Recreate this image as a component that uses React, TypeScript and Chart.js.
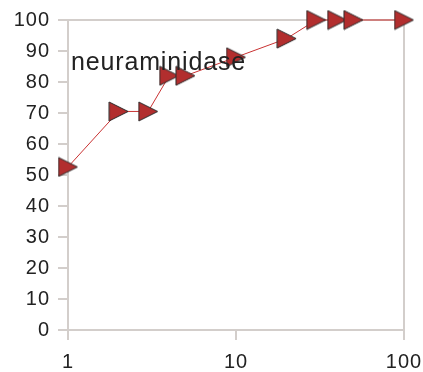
import React, { useEffect, useRef } from "react";
import { Chart, registerables } from "chart.js";

Chart.register(...registerables);

const xValues = [1, 2, 3, 4, 5, 10, 20, 30, 40, 50, 100];
const yValues = [52.6, 70.5, 70.5, 82, 82, 88, 94, 100, 100, 100, 100];
const xTicks = [1, 10, 100];
const yMin = 0;
const yMax = 100;
const yStep = 10;
const labelText = "neuraminidase";

const AXIS = "#d3cecb";
const TEXT = "#222222";
const FAMILY = "'Liberation Sans', Arial, sans-serif";

function makeMarker(): HTMLCanvasElement {
  const c = document.createElement("canvas");
  c.width = 21;
  c.height = 21;
  const g = c.getContext("2d")!;
  g.beginPath();
  g.moveTo(1, 1);
  g.lineTo(20, 10.5);
  g.lineTo(1, 20);
  g.closePath();
  g.fillStyle = "#b22e2e";
  g.fill();
  g.lineWidth = 1;
  g.strokeStyle = "#2b2b2b";
  g.stroke();
  return c;
}

const spacingPlugin = {
  id: "spacing",
  beforeDraw(chart: any) {
    (chart.ctx as any).letterSpacing = "1px";
  },
  afterDraw(chart: any) {
    (chart.ctx as any).letterSpacing = "0px";
  },
};

const labelPlugin = {
  id: "innerLabel",
  afterDatasetsDraw(chart: any) {
    const { ctx, chartArea } = chart;
    ctx.save();
    (ctx as any).letterSpacing = "0.85px";
    ctx.font = `25px ${FAMILY}`;
    ctx.fillStyle = TEXT;
    ctx.textAlign = "left";
    ctx.textBaseline = "alphabetic";
    ctx.fillText(labelText, chartArea.left + 3, chartArea.top + 50);
    ctx.restore();
  },
};

export default function App() {
  const ref = useRef<HTMLCanvasElement | null>(null);
  useEffect(() => {
    if (!ref.current) return;
    const marker = makeMarker();
    const chart = new Chart(ref.current, {
      type: "line",
      data: {
        datasets: [
          {
            data: xValues.map((x, i) => ({ x, y: yValues[i] })),
            borderColor: "#c93232",
            borderWidth: 1,
            pointStyle: marker as any,
            pointRadius: 10,
            pointHoverRadius: 10,
            tension: 0,
            clip: false as any,
          },
        ],
      },
      options: {
        responsive: false,
        animation: false,
        events: [],
        layout: { padding: { top: 20, right: 19, left: 0, bottom: 0 } },
        plugins: { legend: { display: false }, tooltip: { enabled: false }, title: { display: false } },
        scales: {
          x: {
            type: "logarithmic",
            min: 1,
            max: 100,
            afterBuildTicks: (scale: any) => {
              scale.ticks = xTicks.map((v) => ({ value: v }));
            },
            afterFit: (scale: any) => {
              scale.height = 42;
              scale.paddingLeft = 0;
              scale.paddingRight = 0;
            },
            ticks: {
              autoSkip: false,
              maxRotation: 0,
              color: TEXT,
              font: { family: FAMILY, size: 20 },
              padding: 10,
              callback: (v: any) => String(v),
            },
            grid: {
              drawOnChartArea: true,
              color: (c: any) => (c.tick && c.tick.value === 100 ? AXIS : "transparent"),
              tickColor: AXIS,
              tickLength: 10,
              lineWidth: 2,
            },
            border: { display: true, color: AXIS, width: 2 },
          },
          y: {
            type: "linear",
            min: yMin,
            max: yMax,
            afterFit: (scale: any) => {
              scale.width = 68;
              scale.paddingTop = 0;
              scale.paddingBottom = 0;
            },
            ticks: {
              stepSize: yStep,
              color: TEXT,
              font: { family: FAMILY, size: 20 },
              padding: 8,
            },
            grid: {
              drawOnChartArea: true,
              color: (c: any) => (c.tick && c.tick.value === 100 ? AXIS : "transparent"),
              tickColor: AXIS,
              tickLength: 10,
              lineWidth: 2,
            },
            border: { display: true, color: AXIS, width: 2 },
          },
        },
      },
      plugins: [spacingPlugin, labelPlugin],
    });
    return () => chart.destroy();
  }, []);
  return (
    <div style={{ position: "fixed", left: 0, top: 0, width: 423, height: 372, background: "#fff" }}>
      <canvas ref={ref} width={423} height={372} style={{ width: 423, height: 372 }} />
    </div>
  );
}
